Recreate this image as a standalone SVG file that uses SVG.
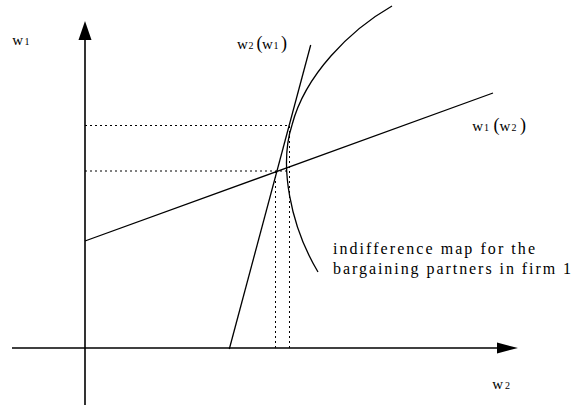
<svg xmlns="http://www.w3.org/2000/svg" width="573" height="408" viewBox="0 0 573 408">
<style>
.ax{stroke:#000;stroke-width:1.6;fill:none}
.ln{stroke:#000;stroke-width:1.3;fill:none}
.dot{stroke:#000;stroke-width:1;stroke-dasharray:2 3;fill:none}
.hd{fill:#000;stroke:none}
text{font-family:"Liberation Serif","Times New Roman",serif;fill:#000}
.lb{font-size:15px}
.sb{font-size:10px}
.pr{font-size:18px}
.tx{font-size:16px}
</style>
<rect width="573" height="408" fill="#fff"/>
<g id="axes">
<line class="ax" x1="85" y1="405" x2="85" y2="38"/>
<polygon class="hd" points="85,21 78.5,40 91.5,40"/>
<line class="ax" x1="12" y1="348" x2="500" y2="348"/>
<polygon class="hd" points="518,348 497,342.5 497,353.5"/>
</g>
<g id="connectors">
<line class="dot" x1="85" y1="125.5" x2="290" y2="125.5"/>
<line class="dot" x1="85" y1="171" x2="288" y2="171"/>
<line class="dot" x1="275.5" y1="171" x2="275.5" y2="348"/>
<line class="dot" x1="289.5" y1="126" x2="289.5" y2="348"/>
</g>
<g id="w1w2-line">
<line class="ln" x1="85" y1="241" x2="493" y2="93"/>
</g>
<g id="w2w1-line">
<line class="ln" x1="229.3" y1="349" x2="310.7" y2="45"/>
</g>
<g id="indifference-curve">
<path class="ln" d="M392,6 C350,30 305,75 292,125 C279,165 290,225 318,272"/>
</g>
<g id="label-w1">
<text class="lb" y="44.7"><tspan x="12.3">w</tspan><tspan class="sb" x="24.5">1</tspan></text>
</g>
<g id="label-w2">
<text class="lb" y="388.7"><tspan x="492.3">w</tspan><tspan class="sb" x="505">2</tspan></text>
</g>
<g id="label-w2w1">
<text class="lb" y="49"><tspan x="237">w</tspan><tspan class="sb" x="248.5">2</tspan><tspan class="pr" x="256.5">(</tspan><tspan x="262">w</tspan><tspan class="sb" x="273.5">1</tspan><tspan class="pr" x="281">)</tspan></text>
</g>
<g id="label-w1w2">
<text class="lb" y="131"><tspan x="472.3">w</tspan><tspan class="sb" x="484">1</tspan><tspan class="pr" x="493.5">(</tspan><tspan x="499.5">w</tspan><tspan class="sb" x="511.5">2</tspan><tspan class="pr" x="520">)</tspan></text>
</g>
<g id="label-indifference">
<text class="tx" x="333" y="254" textLength="202" lengthAdjust="spacing">indifference map for the</text>
<text class="tx" x="333" y="274" textLength="238" lengthAdjust="spacing">bargaining partners in firm 1</text>
</g>
</svg>
